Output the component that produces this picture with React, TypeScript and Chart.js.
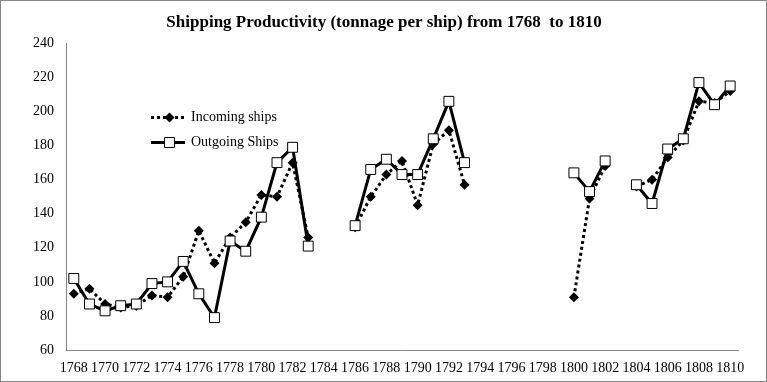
import React, { useEffect, useRef } from "react";
import { Chart, registerables } from "chart.js";

Chart.register(...registerables);

const years: string[] = [
  "1768", "1769", "1770", "1771", "1772", "1773", "1774", "1775", "1776", "1777",
  "1778", "1779", "1780", "1781", "1782", "1783", "1784", "1785", "1786", "1787",
  "1788", "1789", "1790", "1791", "1792", "1793", "1794", "1795", "1796", "1797",
  "1798", "1799", "1800", "1801", "1802", "1803", "1804", "1805", "1806", "1807",
  "1808", "1809", "1810",
];

const incomingShips: (number | null)[] = [
  93, 96, 87, 85, 86, 92, 91, 103, 130, 111, 126, 135, 151, 150, 170, 126,
  null, null,
  132, 150, 163, 171, 145, 181, 189, 157,
  null, null, null, null, null, null,
  91, 149, 168,
  null,
  156, 160, 173, 183, 206, 205, 212,
];

const outgoingShips: (number | null)[] = [
  102, 87, 83, 86, 87, 99, 100, 112, 93, 79, 124, 118, 138, 170, 179, 121,
  null, null,
  133, 166, 172, 163, 163, 184, 206, 170,
  null, null, null, null, null, null,
  164, 153, 171,
  null,
  157, 146, 178, 184, 217, 204, 215,
];

const yTicks = { min: 60, max: 240, step: 20 };
const titleText = "Shipping Productivity (tonnage per ship) from 1768  to 1810";
const FONT = "'Liberation Serif', 'Times New Roman', serif";
const AXIS_GRAY = "#868686";

const framePlugin = {
  id: "frame",
  beforeDraw(chart: any) {
    const { ctx, width, height } = chart;
    ctx.save();
    ctx.fillStyle = "#ffffff";
    ctx.fillRect(0, 0, width, height);
    ctx.restore();
  },
  afterDraw(chart: any) {
    const { ctx, width, height } = chart;
    ctx.save();
    ctx.strokeStyle = AXIS_GRAY;
    ctx.lineWidth = 1;
    ctx.strokeRect(0.5, 0.5, width - 1, height - 1);
    ctx.restore();
  },
};

const legendPlugin = {
  id: "insideLegend",
  afterDraw(chart: any) {
    const { ctx } = chart;
    const rows = [
      { ds: chart.data.datasets[0], y: 117.5 },
      { ds: chart.data.datasets[1], y: 142.5 },
    ];
    ctx.save();
    rows.forEach(({ ds, y }) => {
      const x0 = 151;
      const x1 = 185;
      ctx.beginPath();
      ctx.lineWidth = ds.borderWidth;
      ctx.strokeStyle = ds.borderColor;
      ctx.setLineDash(ds.borderDash || []);
      ctx.moveTo(x0, y);
      ctx.lineTo(x1, y);
      ctx.stroke();
      ctx.setLineDash([]);
      ctx.fillStyle = ds.pointBackgroundColor;
      ctx.strokeStyle = ds.pointBorderColor;
      ctx.lineWidth = ds.pointBorderWidth;
      ctx.beginPath();
      const cx = 169.5;
      const r = ds.pointRadius;
      if (ds.pointStyle === "rectRot") {
        ctx.moveTo(cx - r, y);
        ctx.lineTo(cx, y - r);
        ctx.lineTo(cx + r, y);
        ctx.lineTo(cx, y + r);
        ctx.closePath();
      } else {
        const s = Math.SQRT1_2 * r;
        ctx.rect(cx - s, y - s, 2 * s, 2 * s);
      }
      ctx.fill();
      if (ds.pointBorderWidth) ctx.stroke();
      ctx.fillStyle = "#000000";
      ctx.font = `14px ${FONT}`;
      ctx.textBaseline = "middle";
      ctx.textAlign = "left";
      ctx.fillText(ds.label, 191, y);
    });
    ctx.restore();
  },
};

export default function App() {
  const canvasRef = useRef<HTMLCanvasElement | null>(null);

  useEffect(() => {
    const canvas = canvasRef.current;
    if (!canvas) return;
    const chart = new Chart(canvas, {
      type: "line",
      data: {
        labels: years,
        datasets: [
          {
            label: "Incoming ships",
            data: incomingShips,
            borderColor: "#000000",
            borderWidth: 3,
            borderDash: [3, 3],
            pointStyle: "rectRot",
            pointRadius: 5,
            pointBackgroundColor: "#000000",
            pointBorderColor: "#000000",
            pointBorderWidth: 0,
            spanGaps: false,
            order: 1,
            tension: 0,
          },
          {
            label: "Outgoing Ships",
            data: outgoingShips,
            borderColor: "#000000",
            borderWidth: 3,
            pointStyle: "rect",
            pointRadius: 7,
            pointBackgroundColor: "#ffffff",
            pointBorderColor: "#000000",
            pointBorderWidth: 1,
            spanGaps: false,
            order: 0,
            tension: 0,
          },
        ],
      },
      options: {
        responsive: false,
        animation: false,
        layout: { padding: { top: 0, left: 30, right: 29, bottom: 5 } },
        plugins: {
          legend: { display: false },
          tooltip: { enabled: false },
          title: {
            display: true,
            text: titleText,
            color: "#000000",
            font: { family: FONT, size: 17, weight: "bold" },
            padding: { top: 12, bottom: 11 },
          },
        },
        scales: {
          x: {
            type: "category",
            offset: true,
            grid: { display: false, drawTicks: false },
            border: { display: true, color: AXIS_GRAY, width: 1 },
            ticks: {
              autoSkip: false,
              maxRotation: 0,
              minRotation: 0,
              padding: 10,
              color: "#000000",
              font: { family: FONT, size: 14 },
              callback: (_v: any, i: number) => (i % 2 === 0 ? years[i] : ""),
            },
            afterFit: (scale: any) => {
              scale.height = 27;
            },
          },
          y: {
            min: yTicks.min,
            max: yTicks.max,
            grid: { display: false, drawTicks: false },
            border: { display: true, color: AXIS_GRAY, width: 1 },
            ticks: {
              stepSize: yTicks.step,
              padding: 12,
              color: "#000000",
              font: { family: FONT, size: 14 },
            },
            afterFit: (scale: any) => {
              scale.width = 36;
            },
          },
        },
      },
      plugins: [framePlugin, legendPlugin],
    });
    return () => chart.destroy();
  }, []);

  return (
    <div style={{ position: "fixed", left: 0, top: 0, width: 767, height: 382 }}>
      <canvas ref={canvasRef} width={767} height={382} />
    </div>
  );
}
